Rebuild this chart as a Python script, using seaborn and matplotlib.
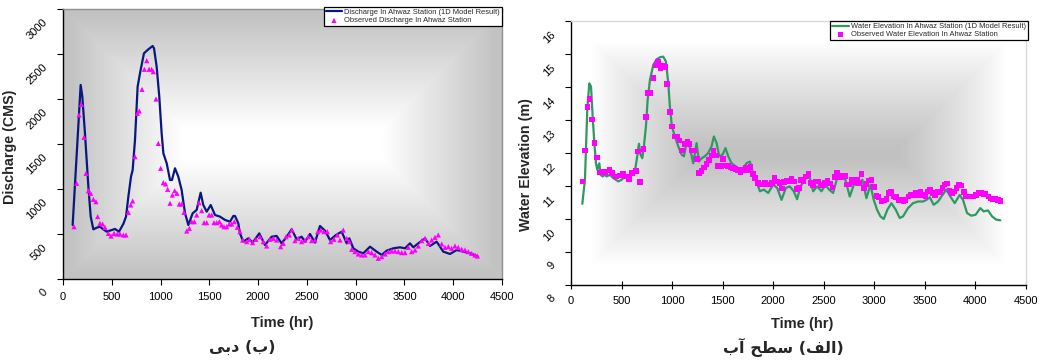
import numpy as np
import matplotlib
matplotlib.use("Agg")
import matplotlib.pyplot as plt
import matplotlib.transforms as mtransforms
import seaborn as sns

# ---------------- data: discharge (left) ----------------
q_model_t = [99, 181, 198, 225, 260, 284, 311, 345, 379, 413, 448, 499, 533, 574, 618, 646, 670, 697,
             714, 738, 765, 789, 830, 875, 919, 933, 960, 987, 1011, 1029, 1063, 1097, 1117, 1148, 1182,
             1216, 1251, 1285, 1329, 1370, 1411, 1438, 1473, 1514, 1558, 1609, 1661, 1712, 1746, 1763,
             1797, 1814, 1848, 1900, 1944, 2012, 2070, 2139, 2190, 2241, 2293, 2344, 2395, 2446, 2481,
             2532, 2583, 2634, 2686, 2737, 2798, 2857, 2908, 2935, 2976, 3027, 3078, 3147, 3215, 3267,
             3318, 3386, 3454, 3506, 3557, 3591, 3642, 3711, 3762, 3830, 3898, 3967, 4035, 4103, 4172,
             4250]
q_model_v = [600, 2156, 2026, 1619, 1026, 693, 552, 570, 581, 552, 526, 544, 556, 526, 611, 693, 915,
             1137, 1211, 1545, 2137, 2285, 2508, 2552, 2589, 2563, 2359, 2026, 1619, 1396, 1285, 1100,
             1100, 1230, 1137, 989, 730, 600, 730, 767, 959, 822, 748, 822, 711, 693, 656, 637, 700, 700,
             619, 507, 415, 452, 404, 507, 378, 470, 478, 396, 470, 552, 441, 470, 415, 500, 404, 589,
             537, 433, 489, 526, 396, 452, 341, 304, 285, 359, 304, 267, 315, 341, 352, 341, 396, 352,
             396, 452, 367, 415, 304, 278, 322, 304, 285, 252]

q_obs_t = [113, 140, 164, 188, 215, 236, 260, 284, 311, 338, 355, 379, 406, 430, 465, 492, 523, 557,
           584, 618, 646, 670, 694, 714, 738, 762, 782, 810, 834, 858, 882, 909, 926, 953, 977, 1001,
           1028, 1052, 1073, 1097, 1121, 1145, 1168, 1192, 1216, 1240, 1268, 1295, 1319, 1346, 1370,
           1394, 1421, 1446, 1473, 1497, 1524, 1548, 1575, 1603, 1626, 1650, 1677, 1704, 1729, 1756,
           1787, 1814, 1842, 1883, 1910, 1944, 1978, 2019, 2053, 2088, 2122, 2156, 2190, 2231, 2258,
           2286, 2320, 2347, 2378, 2412, 2446, 2481, 2515, 2549, 2583, 2611, 2641, 2675, 2709, 2744,
           2778, 2812, 2839, 2873, 2908, 2935, 2959, 2993, 3027, 3061, 3096, 3130, 3164, 3198, 3232,
           3267, 3301, 3335, 3369, 3403, 3437, 3472, 3506, 3540, 3574, 3608, 3642, 3677, 3711, 3745,
           3779, 3813, 3847, 3882, 3916, 3950, 3984, 4018, 4052, 4087, 4121, 4155, 4189, 4223, 4247]
q_obs_v = [581, 1063, 1822, 1941, 1574, 1174, 981, 952, 885, 859, 693, 619, 611, 574, 507, 478, 507,
           500, 500, 489, 489, 741, 822, 867, 1359, 1841, 1867, 2107, 2330, 2426, 2330, 2330, 2304,
           2000, 1507, 1230, 1070, 1056, 996, 841, 933, 981, 952, 833, 833, 741, 533, 563, 637, 637,
           711, 848, 759, 626, 626, 711, 711, 626, 626, 637, 600, 581, 581, 611, 611, 637, 574, 526,
           433, 415, 441, 404, 441, 470, 415, 367, 441, 452, 433, 359, 396, 470, 489, 544, 426, 452,
           415, 433, 470, 426, 433, 526, 544, 526, 526, 415, 441, 489, 433, 544, 452, 415, 330, 304,
           278, 267, 267, 304, 293, 267, 230, 248, 278, 304, 311, 311, 304, 293, 293, 352, 304, 322,
           367, 426, 452, 396, 433, 463, 489, 389, 352, 359, 341, 367, 352, 330, 322, 304, 285, 267,
           255]

# ---------------- data: water elevation (right) ----------------
h_model_t = [112, 138, 161, 181, 198, 214, 231, 247, 260, 280, 293, 313, 336, 352, 385, 418, 468, 501,
             534, 567, 600, 632, 655, 672, 688, 705, 721, 741, 758, 781, 814, 847, 879, 912, 939, 962,
             978, 998, 1028, 1061, 1094, 1117, 1136, 1160, 1183, 1209, 1242, 1265, 1291, 1324, 1357,
             1390, 1413, 1440, 1466, 1499, 1528, 1555, 1588, 1631, 1670, 1703, 1736, 1769, 1802, 1835,
             1868, 1907, 1950, 2000, 2039, 2082, 2125, 2164, 2203, 2236, 2270, 2312, 2355, 2395, 2434,
             2477, 2517, 2553, 2592, 2632, 2675, 2714, 2757, 2797, 2839, 2882, 2922, 2961, 2994, 3027,
             3060, 3093, 3129, 3169, 3212, 3251, 3284, 3333, 3383, 3432, 3482, 3515, 3548, 3587, 3630,
             3663, 3712, 3752, 3795, 3844, 3877, 3917, 3959, 4002, 4048, 4081, 4124, 4164, 4206, 4246]
h_model_v = [10.46, 11.19, 13.31, 14.11, 14.01, 13.11, 12.30, 11.69, 11.49, 11.69, 11.34, 11.29,
             11.34, 11.29, 11.34, 11.24, 11.14, 11.19, 11.29, 11.19, 11.34, 11.44, 11.90, 12.28, 11.95,
             11.84, 12.20, 12.80, 13.61, 14.22, 14.67, 14.84, 14.90, 14.92, 14.77, 14.11, 13.41, 12.80,
             12.50, 12.20, 11.95, 11.90, 12.20, 12.40, 12.05, 11.69, 12.30, 11.74, 11.84, 11.90, 12.00,
             12.20, 12.50, 12.30, 11.90, 11.95, 12.15, 11.90, 11.69, 11.59, 11.49, 11.54, 11.69, 11.74,
             11.39, 11.14, 10.84, 10.89, 10.79, 11.04, 10.94, 10.58, 10.94, 10.99, 10.84, 10.60, 10.99,
             11.19, 11.34, 10.84, 10.99, 10.84, 11.04, 10.89, 10.79, 11.24, 11.24, 11.19, 10.68, 11.04,
             11.04, 11.19, 10.63, 11.04, 10.58, 10.28, 10.08, 10.00, 10.28, 10.48, 10.28, 10.03, 10.08,
             10.33, 10.48, 10.53, 10.53, 10.58, 10.66, 10.43, 10.53, 10.68, 10.89, 10.68, 10.48, 10.73,
             10.58, 10.18, 10.10, 10.13, 10.33, 10.23, 10.26, 10.08, 9.98, 9.96]

h_obs_t = [112, 138, 161, 184, 208, 231, 257, 280, 313, 343, 379, 408, 445, 484, 517, 544, 573, 606,
           642, 665, 685, 715, 741, 764, 787, 814, 837, 860, 886, 912, 936, 952, 978, 1001, 1028, 1051,
           1074, 1100, 1127, 1150, 1173, 1196, 1222, 1245, 1268, 1291, 1314, 1341, 1364, 1390, 1410,
           1433, 1456, 1482, 1505, 1528, 1551, 1578, 1604, 1627, 1650, 1677, 1703, 1726, 1752, 1775,
           1799, 1822, 1848, 1871, 1894, 1917, 1940, 1967, 1990, 2013, 2036, 2062, 2085, 2108, 2131,
           2158, 2181, 2207, 2230, 2253, 2276, 2299, 2326, 2349, 2372, 2395, 2418, 2441, 2467, 2490,
           2513, 2536, 2560, 2586, 2609, 2632, 2658, 2681, 2708, 2731, 2754, 2777, 2803, 2826, 2849,
           2872, 2899, 2922, 2948, 2971, 2994, 3020, 3043, 3070, 3093, 3119, 3142, 3165, 3192, 3215,
           3238, 3264, 3287, 3310, 3337, 3360, 3383, 3409, 3432, 3455, 3482, 3505, 3528, 3551, 3577,
           3600, 3623, 3650, 3673, 3696, 3719, 3745, 3768, 3791, 3814, 3837, 3863, 3886, 3909, 3936,
           3959, 3982, 4005, 4032, 4055, 4078, 4101, 4127, 4151, 4174, 4197, 4223, 4246]
h_obs_v = [11.14, 12.08, 13.39, 13.63, 13.01, 12.30, 11.87, 11.41, 11.42, 11.42, 11.49, 11.39, 11.29,
           11.32, 11.37, 11.29, 11.22, 11.39, 11.46, 12.05, 11.12, 12.12, 13.09, 13.81, 13.81, 14.27,
           14.65, 14.76, 14.57, 14.64, 14.60, 14.09, 13.24, 12.80, 12.50, 12.50, 12.38, 12.08, 12.27,
           12.35, 12.27, 12.08, 12.08, 11.82, 11.39, 11.46, 11.56, 11.67, 11.79, 11.92, 12.08, 11.92,
           11.61, 11.61, 11.82, 11.62, 11.61, 11.56, 11.54, 11.51, 11.49, 11.41, 11.49, 11.54, 11.49,
           11.57, 11.37, 11.24, 11.09, 11.04, 11.04, 11.11, 11.04, 11.04, 11.09, 11.24, 11.14, 11.09,
           10.92, 11.12, 11.17, 11.14, 11.21, 11.14, 10.91, 10.94, 11.19, 11.14, 11.29, 11.36, 11.09,
           11.02, 11.14, 11.14, 11.02, 11.03, 11.11, 11.17, 11.07, 10.96, 11.27, 11.41, 11.27, 11.31,
           11.31, 11.04, 11.04, 11.19, 11.11, 11.19, 11.09, 11.36, 10.94, 11.06, 11.17, 11.19, 10.97,
           10.70, 10.66, 10.53, 10.56, 10.60, 10.79, 10.84, 10.68, 10.66, 10.56, 10.58, 10.53, 10.58,
           10.68, 10.73, 10.73, 10.79, 10.73, 10.81, 10.73, 10.68, 10.84, 10.89, 10.79, 10.73, 10.81,
           10.81, 10.94, 11.04, 11.07, 10.87, 10.79, 10.84, 10.94, 11.04, 11.01, 10.81, 10.68, 10.68,
           10.68, 10.68, 10.73, 10.79, 10.79, 10.76, 10.75, 10.68, 10.62, 10.60, 10.60, 10.58, 10.55]

x_ticks = [0, 500, 1000, 1500, 2000, 2500, 3000, 3500, 4000, 4500]
q_ticks = [0, 500, 1000, 1500, 2000, 2500, 3000]
h_ticks = [8, 9, 10, 11, 12, 13, 14, 15, 16]

q_model_label = "Discharge In Ahwaz Station (1D Model Result)"
q_obs_label = "Observed Discharge In Ahwaz Station"
h_model_label = "Water Elevation In Ahwaz Station (1D Model Result)"
h_obs_label = "Observed Water Elevation In Ahwaz Station"
# Persian captions, given in visual (pre-shaped) order: "(ب) دبی" and "(الف) سطح آب"
cap_left = "\uFBFD\uFE91\uFEA9 (\uFE8F)"
cap_right = "\uFE8F\uFE81 \uFEA2\uFEC4\uFEB3 (\uFED2\uFEDF\uFE8D)"

# ---------------- style ----------------
sns.set_style("ticks")
plt.rcParams["font.family"] = ["Liberation Sans", "DejaVu Sans"]
plt.rcParams["axes.linewidth"] = 1.0

W, H = 1040, 362
fig = plt.figure(figsize=(W / 100, H / 100), dpi=100)


def px_axes(l, t, r, b):
    return fig.add_axes([l / W, 1 - b / H, (r - l) / W, (b - t) / H])


def rect_gradient(wpx, hpx):
    xs = np.arange(wpx) + 0.5
    ys = np.arange(hpx) + 0.5
    X, Y = np.meshgrid(xs, ys)
    d = np.minimum(np.minimum(X, wpx - X), np.minimum(Y, hpx - Y))
    return d / (min(wpx, hpx) / 2.0)


ax1 = px_axes(63, 9, 502, 279)
ax2 = px_axes(571, 21, 1026, 285)

# backgrounds
t1 = rect_gradient(439, 270)
g1 = 194 + 61 * np.clip((t1 - 0.05) / 0.85, 0, 1) ** 1.0
ax1.imshow(g1, cmap="gray", vmin=0, vmax=255, extent=[0, 1, 0, 1], transform=ax1.transAxes,
           aspect="auto", zorder=0, interpolation="bilinear")
t2 = rect_gradient(455, 264)
g2 = 255 - 62 * np.clip((t2 - 0.15) / 0.8, 0, 1) ** 0.9
ax2.imshow(g2, cmap="gray", vmin=0, vmax=255, extent=[0, 1, 0, 1], transform=ax2.transAxes,
           aspect="auto", zorder=0, interpolation="bilinear")

# left chart
sns.lineplot(x=q_model_t, y=q_model_v, ax=ax1, color="#0a1780", lw=1.6, label=q_model_label,
             sort=False, zorder=3)
sns.scatterplot(x=q_obs_t, y=q_obs_v, ax=ax1, color="#ff00ff", marker="^", s=14, edgecolor="none",
                label=q_obs_label, zorder=4)
ax1.set_xlim(0, 4500)
ax1.set_ylim(0, 3000)
ax1.set_xticks(x_ticks)
ax1.set_yticks(q_ticks)

# right chart
sns.lineplot(x=h_model_t, y=h_model_v, ax=ax2, color="#2e9960", lw=1.6, label=h_model_label,
             sort=False, zorder=3)
sns.scatterplot(x=h_obs_t, y=h_obs_v, ax=ax2, color="#ff00ff", marker="s", s=16, edgecolor="none",
                label=h_obs_label, zorder=4)
ax2.set_xlim(0, 4500)
ax2.set_ylim(8, 16)
ax2.set_xticks(x_ticks)
ax2.set_yticks(h_ticks)

for ax, spc in ((ax1, "#909090"), (ax2, "#d8d8d8")):
    ax.spines["top"].set_color(spc)
    ax.spines["right"].set_color(spc)
    ax.spines["left"].set_color("black")
    ax.spines["bottom"].set_color("black")
    ax.set_xticklabels([str(v) for v in x_ticks])
    ax.tick_params(axis="x", labelsize=8, length=4, pad=5, colors="black")
    ax.tick_params(axis="y", labelsize=8, length=4, pad=3, colors="black", labelrotation=45)
    offset = mtransforms.ScaledTranslation(-3 / 72, -6 / 72, fig.dpi_scale_trans)
    for lbl in ax.get_yticklabels():
        lbl.set_ha("right")
        lbl.set_va("top")
        lbl.set_transform(lbl.get_transform() + offset)
    ax.set_xlabel("Time (hr)", fontsize=10.5, fontweight="bold")

ax2.tick_params(axis="x", direction="inout", length=6)
ax1.set_ylabel("Discharge (CMS)", fontsize=10.3, fontweight="bold")
ax2.set_ylabel("Water Elevation (m)", fontsize=10.3, fontweight="bold")
ax1.yaxis.set_label_coords(-0.105, 0.489)
ax2.yaxis.set_label_coords(-0.083, 0.455)
ax1.xaxis.set_label_coords(0.499, -0.138)
ax2.xaxis.set_label_coords(0.508, -0.12)

leg_kw = dict(loc="upper right", fontsize=5.4, frameon=True, fancybox=False, framealpha=1,
              edgecolor="black", borderpad=0.25, labelspacing=0.15, handlelength=2.2,
              handletextpad=0.3, borderaxespad=0)
l1 = ax1.legend(bbox_to_anchor=(1.0, 1.008), **leg_kw)
l2 = ax2.legend(bbox_to_anchor=(1.004, 1.0), **leg_kw)
for lg in (l1, l2):
    lg.get_frame().set_linewidth(0.9)

fig.text(242 / W, 1 - 347 / H, cap_left, fontsize=11.5, fontweight="bold", ha="center",
         va="center", family=["DejaVu Sans"])
fig.text(783 / W, 1 - 347 / H, cap_right, fontsize=11.5, fontweight="bold", ha="center",
         va="center", family=["DejaVu Sans"])

fig.savefig("out.png", dpi=100, facecolor="white")
